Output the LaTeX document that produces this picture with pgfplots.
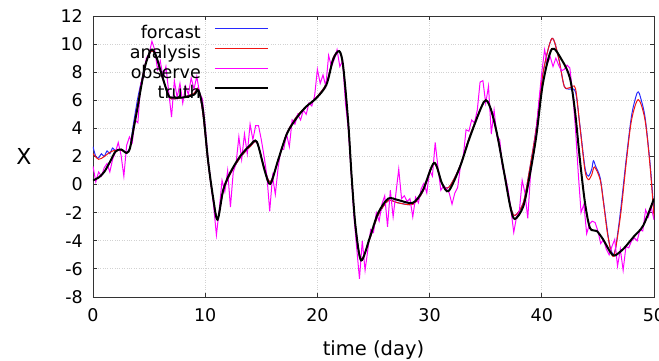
\documentclass[border=0pt]{standalone}
\usepackage{fontspec}
\setmainfont{DejaVu Sans}
\usepackage{pgfplots}
\pgfplotsset{compat=1.18}
\usepackage{pgfplotstable}
\definecolor{gpblue}{RGB}{40,40,255}
\definecolor{gpred}{RGB}{240,20,20}
\definecolor{gpmag}{RGB}{255,0,255}

\pgfplotstableread{
t y
0 0.3
0.5 0.5
1.0 0.9
1.5 1.6
2.0 2.35
2.5 2.5
3.0 2.25
3.3 2.6
3.6 3.9
4.0 5.6
4.3 7.0
4.7 8.6
5.2 9.6
5.6 9.2
6.1 7.9
6.7 6.4
7.0 6.2
8.0 6.2
9.0 6.4
9.4 6.7
9.8 5.3
10.25 1.75
10.7 -0.9
11.1 -2.5
11.6 -0.4
12.2 0.8
13.1 2.0
14.0 2.8
14.6 3.05
15.3 1.0
15.8 0.05
16.5 1.75
17.3 3.65
18.2 4.8
19.0 5.55
19.9 6.15
20.8 7.1
21.4 8.9
21.95 9.5
22.3 8.4
22.75 4.4
23.05 0.6
23.4 -3.0
23.9 -5.4
24.7 -3.7
25.4 -2.05
26.3 -1.0
27.2 -1.1
28.5 -1.3
29.4 -0.4
30.4 1.55
31.1 0.1
31.7 -0.45
32.7 1.25
33.6 3.4
34.85 5.9
35.4 5.5
36.0 3.65
36.6 1.05
37.2 -1.6
37.6 -2.45
38.35 -1.55
38.9 0.55
39.5 3.4
40.1 7.2
40.9 9.65
41.8 8.85
42.5 7.6
42.95 5.3
43.4 1.75
43.85 -1.3
44.3 -3.1
44.9 -3.3
45.5 -3.95
46.1 -4.8
46.5 -5.05
47.3 -4.55
48.2 -3.7
49.05 -2.9
50.0 -1.0
}\truth

\pgfplotstableread{
t y
0 2.2
0.5 1.8
1.0 2.0
1.5 2.3
2.0 2.45
2.5 2.45
3.0 2.3
3.3 2.6
3.6 4.0
4.0 5.8
4.3 7.2
4.7 8.7
5.2 9.5
5.6 9.2
6.1 7.8
6.7 6.4
7.0 6.1
8.0 6.2
9.0 6.5
9.4 6.8
9.8 5.0
10.25 1.6
10.7 -1.0
11.1 -2.4
11.6 -0.5
12.2 0.7
13.1 1.9
14.0 2.7
14.6 3.0
15.3 1.1
15.8 0.2
16.5 1.7
17.3 3.7
18.2 4.9
19.0 5.55
19.9 6.2
20.8 7.2
21.4 9.0
21.95 9.5
22.3 8.3
22.75 4.3
23.05 0.5
23.4 -3.0
23.9 -5.3
24.7 -3.8
25.4 -2.2
26.3 -1.15
27.2 -1.3
28.5 -1.4
29.4 -0.5
30.4 1.5
31.1 0.1
31.7 -0.2
32.7 1.3
33.6 3.5
34.85 5.9
35.4 5.5
36.0 3.6
36.6 1.0
37.2 -1.5
37.6 -2.2
38.35 -1.3
38.9 1.0
39.5 4.0
40.1 7.9
40.9 10.4
41.5 9.0
42.0 7.0
42.5 6.9
43.0 6.85
43.4 4.1
43.85 1.0
44.15 0.35
44.45 0.7
44.7 1.25
45.2 0.35
45.5 -1.3
45.9 -3.7
46.4 -5.1
47.0 -2.3
47.55 1.75
48.0 4.6
48.6 6.05
49.2 4.6
49.65 1.3
50.0 -2.3
}\analysis

\pgfplotstableread{
t y
0 2.7
0.25 2.0
0.5 1.9
0.75 2.2
1.0 2.0
1.25 2.4
1.5 2.2
1.75 2.6
2.0 2.4
2.5 2.5
3.0 2.3
3.3 2.7
3.6 4.3
4.0 6.2
4.3 7.3
4.7 8.7
5.2 9.5
5.6 9.2
6.1 7.8
6.7 6.4
7.0 6.1
8.0 6.2
9.0 6.5
9.4 6.8
9.8 5.0
10.25 1.6
10.7 -1.0
11.1 -2.4
11.6 -0.5
12.2 0.7
13.1 1.9
14.0 2.7
14.6 3.0
15.3 1.1
15.8 0.2
16.5 1.7
17.3 3.7
18.2 4.9
19.0 5.55
19.9 6.2
20.8 7.2
21.4 9.0
21.95 9.5
22.3 8.3
22.75 4.3
23.05 0.5
23.4 -3.0
23.9 -5.3
24.7 -3.8
25.4 -2.2
26.3 -1.15
27.2 -1.3
28.5 -1.4
29.4 -0.5
30.4 1.5
31.1 0.1
31.7 -0.2
32.7 1.3
33.6 3.5
34.85 5.9
35.4 5.5
36.0 3.6
36.6 1.0
37.2 -1.5
37.6 -2.2
38.35 -1.3
38.9 1.0
39.5 4.0
40.1 7.9
40.9 10.4
41.5 9.0
42.0 7.0
42.5 6.8
43.0 6.6
43.4 4.2
43.85 1.2
44.15 0.6
44.45 1.1
44.6 1.7
44.8 1.3
45.2 0.5
45.5 -1.2
45.9 -3.6
46.1 -4.5
46.3 -4.9
46.4 -5.0
46.6 -4.4
47.0 -2.0
47.55 2.0
48.0 4.9
48.4 6.3
48.6 6.6
48.8 6.2
49.2 4.8
49.65 1.5
50.0 -2.0
}\forcast

\pgfplotstableread{
t y
0.00 1.3
0.25 0.2
0.50 0.9
0.75 0.6
1.00 1.2
1.25 1.5
1.50 0.9
1.75 1.8
2.00 2.3
2.25 3.0
2.50 2.1
2.75 0.6
3.00 2.8
3.25 3.4
3.50 3.0
3.75 4.6
4.00 4.4
4.25 7.2
4.50 7.6
4.75 9.0
5.00 9.3
5.25 10.2
5.50 9.6
5.75 8.2
6.00 8.8
6.25 7.6
6.50 8.4
6.75 6.6
7.00 4.8
7.25 7.4
7.50 6.2
7.75 7.2
8.00 5.8
8.25 7.0
8.50 6.4
8.75 7.6
9.00 6.8
9.25 7.7
9.50 6.5
9.75 6.1
10.00 4.2
10.25 1.9
10.50 0.2
10.75 -1.5
11.00 -3.6
11.25 -1.8
11.50 0.3
11.75 -0.5
12.00 1.0
12.25 -1.6
12.50 0.9
12.75 1.5
13.00 3.4
13.25 1.8
13.50 3.6
13.75 2.2
14.00 4.3
14.25 3.2
14.50 4.2
14.75 4.2
15.00 3.2
15.25 2.0
15.50 0.6
15.75 -1.9
16.00 0.6
16.25 -0.7
16.50 1.2
16.75 2.5
17.00 2.5
17.25 3.6
17.50 2.7
17.75 4.6
18.00 4.3
18.25 5.0
18.50 4.6
18.75 5.3
19.00 5.0
19.25 5.8
19.50 5.6
19.75 6.3
20.00 8.2
20.25 7.2
20.50 7.8
20.75 7.0
21.00 9.2
21.25 8.4
21.50 8.9
21.75 9.6
22.00 8.4
22.25 8.8
22.50 5.8
22.75 4.0
23.00 1.0
23.25 -2.2
23.50 -4.5
23.75 -6.7
24.00 -4.0
24.25 -6.1
24.50 -4.6
24.75 -3.2
25.00 -3.4
25.25 -2.0
25.50 -2.6
25.75 -1.4
26.00 -0.8
26.25 -3.0
26.50 -0.4
26.75 -2.3
27.00 -0.6
27.25 1.1
27.50 -1.0
27.75 -0.8
28.00 -1.2
28.25 -1.0
28.50 -2.3
28.75 -0.9
29.00 -1.3
29.25 -0.3
29.50 0.1
29.75 -0.6
30.00 1.0
30.25 0.6
30.50 3.0
30.75 1.2
31.00 -0.4
31.25 -0.1
31.50 -0.3
31.75 -0.6
32.00 -1.4
32.25 -0.6
32.50 -0.2
32.75 1.3
33.00 2.0
33.25 3.9
33.50 3.8
33.75 4.6
34.00 4.4
34.25 5.3
34.50 7.3
34.75 7.4
35.00 5.8
35.25 7.0
35.50 3.6
35.75 5.3
36.00 3.4
36.25 3.2
36.50 1.2
36.75 0.6
37.00 -0.4
37.25 -1.8
37.50 -3.4
37.75 -2.3
38.00 -1.9
38.25 0.3
38.50 -0.6
38.75 -2.4
39.00 0.8
39.25 2.3
39.50 3.8
39.75 6.0
40.00 8.0
40.25 9.6
40.50 8.6
40.75 9.1
41.00 8.4
41.25 9.0
41.50 8.5
41.75 8.1
42.00 8.2
42.25 8.5
42.50 8.3
42.75 6.5
43.00 4.0
43.25 0.8
43.50 -2.0
43.75 -1.4
44.00 -3.5
44.25 -2.8
44.50 -2.6
44.75 -2.7
45.00 -3.3
45.25 -4.2
45.50 -3.9
45.75 -4.6
46.00 -5.0
46.25 -4.4
46.50 -3.9
46.75 -5.8
47.00 -4.6
47.25 -6.1
47.50 -4.4
47.75 -4.5
48.00 -4.0
48.25 -3.8
48.50 -4.0
48.75 -3.2
49.00 -3.3
49.25 -1.8
49.50 -2.3
49.75 -1.6
50.00 -2.5
}\observe

\begin{document}
\begin{tikzpicture}
\begin{axis}[
  name=ax,
  at={(0pt,0pt)}, anchor=south west,
  scale only axis, width=561pt, height=281pt,
  xmin=0, xmax=50, ymin=-8, ymax=12,
  xtick={0,10,...,50}, ytick={-8,-6,...,12},
  yticklabels={-8,-6,-4,-2,0,2,4,6,8,10,12},
  xticklabels={0,10,20,30,40,50},
  tick align=inside, major tick length=4pt,
  grid=major, grid style={gray!35, dotted, line width=0.8pt},
  axis line style={line width=0.9pt, black!80},
  every tick/.style={black!80, line width=0.8pt},
  /pgf/number format/assume math mode=true,
  tick label style={font=\fontsize{17.5}{20}\selectfont, inner sep=0pt},
  yticklabel style={xshift=-10pt},
  xticklabel style={yshift=-11pt},
  xlabel={time (day)},
  xlabel style={font=\fontsize{19.5}{22}\selectfont, at={(axis description cs:0.5,0)}, anchor=base, yshift=-58pt},
  legend cell align=right,
  legend plot pos=right,
  legend image code/.code={\draw[#1] (0pt,6pt) -- (53pt,6pt);},
  legend style={draw=none, fill=none, inner sep=0pt, column sep=13pt, row sep=3pt,
    nodes={inner sep=0pt, text height=13pt, text depth=4pt, font=\fontsize{17.5}{20}\selectfont},
    at={(axis description cs:0.3137,0.966)}, anchor=north east},
]
\addplot[gpblue, line width=1pt, smooth] table[x=t,y=y] {\forcast};
\addlegendentry{forcast}
\addplot[gpred, line width=1pt, smooth] table[x=t,y=y] {\analysis};
\addlegendentry{analysis}
\addplot[gpmag, line width=1pt] table[x=t,y=y] {\observe};
\addlegendentry{observe}
\addplot[black, line width=2pt, smooth] table[x=t,y=y] {\truth};
\addlegendentry{truth}
\end{axis}
\node[font=\fontsize{22}{24}\selectfont, xshift=-69pt] at (ax.west) {X};
\pgfresetboundingbox
\useasboundingbox (-93pt,-64pt) rectangle (566pt,297pt);
\end{tikzpicture}
\end{document}
